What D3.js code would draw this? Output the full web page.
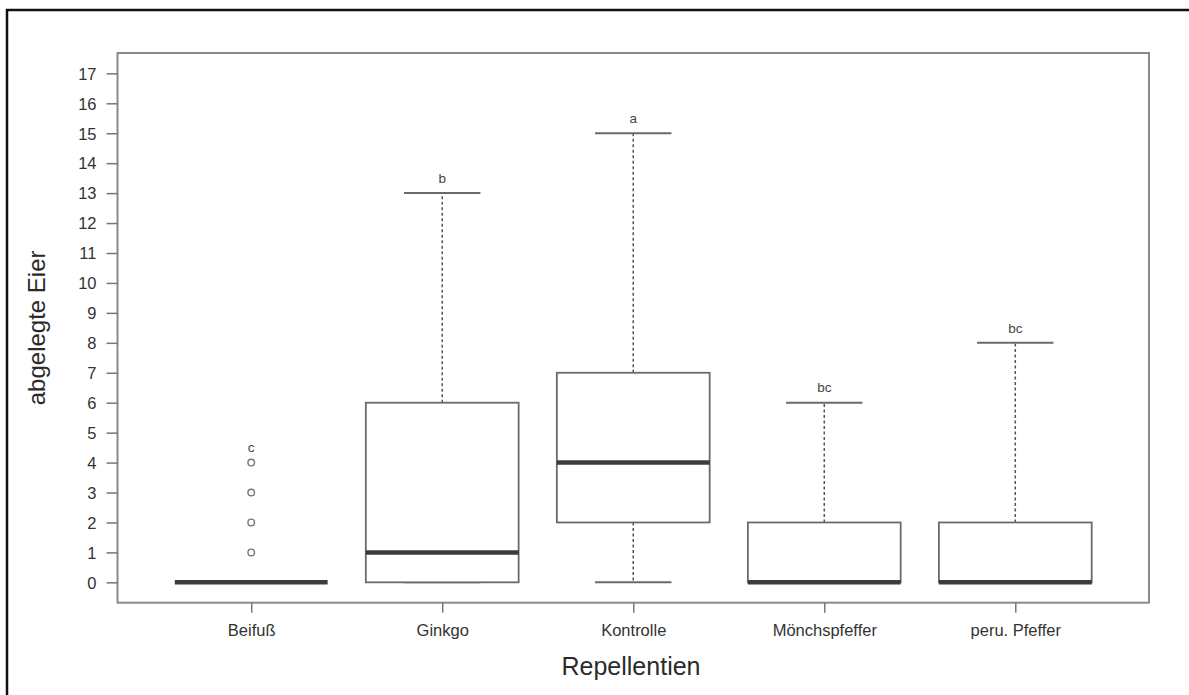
<!DOCTYPE html>
<html>
<head>
<meta charset="utf-8">
<script src="https://cdn.jsdelivr.net/npm/d3@7"></script>
<style>
  html, body { margin: 0; padding: 0; background: #fff; }
  svg { display: block; font-family: Arial, "Liberation Sans", sans-serif; }
</style>
</head>
<body>
<svg id="chart" width="1189" height="695"></svg>
<script>
// ---- data ----
const categories = ["Beifuß", "Ginkgo", "Kontrolle", "Mönchspfeffer", "peru. Pfeffer"];
const whiskerLow  = [0, 0, 0, 0, 0];
const q1          = [0, 0, 2, 0, 0];
const medians     = [0, 1, 4, 0, 0];
const q3          = [0, 6, 7, 2, 2];
const whiskerHigh = [0, 13, 15, 6, 8];
const outliers    = [[1, 2, 3, 4], [], [], [], []];
const letters     = ["c", "b", "a", "bc", "bc"];
const letterPos   = [4.5, 13.5, 15.5, 6.5, 8.5];
const yTicks      = d3.range(0, 18);
const yTitle = "abgelegte Eier";
const xTitle = "Repellentien";

// ---- layout ----
const svg = d3.select("#chart");
const L = 117.5, R = 1149, T = 53, B = 602.7;

const x = d3.scalePoint().domain(categories).range([L, R]).padding(0.7);
const y = d3.scaleLinear().domain([-0.68, 17.68]).range([B, T]);
const boxW = x.step() * 0.8;
const capW = boxW * 0.5;

const data = categories.map((c, i) => ({
  c, lo: whiskerLow[i], q1: q1[i], med: medians[i], q3: q3[i], hi: whiskerHigh[i],
  out: outliers[i], letter: letters[i], lpos: letterPos[i]
}));

// outer frame (extends beyond the bottom/right of the picture)
svg.append("rect")
  .attr("x", 7).attr("y", 10).attr("width", 1200).attr("height", 720)
  .attr("fill", "none").attr("stroke", "#111").attr("stroke-width", 2.5);

// plot frame
svg.append("rect")
  .attr("x", L).attr("y", T).attr("width", R - L).attr("height", B - T)
  .attr("fill", "none").attr("stroke", "#8a8a8a").attr("stroke-width", 2);

// y axis
const yAxis = d3.axisLeft(y).tickValues(yTicks).tickSize(11).tickPadding(10).tickFormat(d3.format("d"));
const yg = svg.append("g").attr("transform", `translate(${L},0)`).call(yAxis);
yg.select(".domain").remove();
yg.selectAll(".tick line").attr("stroke", "#777").attr("stroke-width", 1.5);
yg.selectAll(".tick text").attr("fill", "#333").style("font-size", "16.5px")
  .style("font-family", "Arial, 'Liberation Sans', sans-serif").attr("dy", "0.35em");

// x axis
const xAxis = d3.axisBottom(x).tickSize(10).tickPadding(12);
const xg = svg.append("g").attr("transform", `translate(0,${B})`).call(xAxis);
xg.select(".domain").remove();
xg.selectAll(".tick line").attr("stroke", "#777").attr("stroke-width", 1.5);
xg.selectAll(".tick text").attr("fill", "#333").style("font-size", "16.5px")
  .style("font-family", "Arial, 'Liberation Sans', sans-serif");

// titles
svg.append("text")
  .attr("x", 631).attr("y", 675)
  .attr("text-anchor", "middle").attr("fill", "#2a2a2a")
  .style("font-size", "25px").text(xTitle);
svg.append("text")
  .attr("transform", `translate(45,${(T + B) / 2}) rotate(-90)`)
  .attr("text-anchor", "middle").attr("fill", "#2a2a2a")
  .style("font-size", "24px").text(yTitle);

// boxes
const g = svg.append("g");
data.forEach(d => {
  const cx = x(d.c);
  // whiskers (dashed)
  if (d.hi > d.q3) {
    g.append("line").attr("x1", cx).attr("x2", cx).attr("y1", y(d.q3)).attr("y2", y(d.hi))
      .attr("stroke", "#555").attr("stroke-width", 1.5).attr("stroke-dasharray", "3,2.5");
  }
  if (d.lo < d.q1) {
    g.append("line").attr("x1", cx).attr("x2", cx).attr("y1", y(d.q1)).attr("y2", y(d.lo))
      .attr("stroke", "#555").attr("stroke-width", 1.5).attr("stroke-dasharray", "3,2.5");
  }
  // caps
  [d.lo, d.hi].forEach(v => {
    g.append("line").attr("x1", cx - capW / 2).attr("x2", cx + capW / 2)
      .attr("y1", y(v)).attr("y2", y(v))
      .attr("stroke", "#6a6a6a").attr("stroke-width", 2);
  });
  // box
  g.append("rect")
    .attr("x", cx - boxW / 2).attr("width", boxW)
    .attr("y", y(d.q3)).attr("height", Math.max(0, y(d.q1) - y(d.q3)))
    .attr("fill", "#fff").attr("stroke", "#6a6a6a").attr("stroke-width", 1.8);
  // median
  g.append("line").attr("x1", cx - boxW / 2).attr("x2", cx + boxW / 2)
    .attr("y1", y(d.med)).attr("y2", y(d.med))
    .attr("stroke", "#3c3c3c").attr("stroke-width", 4.5);
  // outliers
  d.out.forEach(v => {
    g.append("circle").attr("cx", cx).attr("cy", y(v)).attr("r", 3.3)
      .attr("fill", "none").attr("stroke", "#777").attr("stroke-width", 1.4);
  });
  // letters
  g.append("text").attr("x", cx).attr("y", y(d.lpos)).attr("dy", "0.35em")
    .attr("text-anchor", "middle").attr("fill", "#444")
    .style("font-size", "13.5px").text(d.letter);
});
</script>
</body>
</html>
